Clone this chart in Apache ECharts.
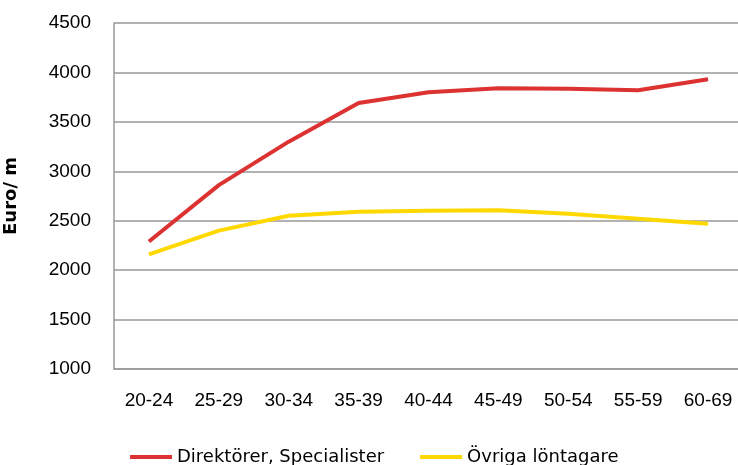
<!DOCTYPE html>
<html>
<head>
<meta charset="utf-8">
<script src="https://cdn.jsdelivr.net/npm/echarts@6/dist/echarts.min.js"></script>
<style>
  html, body { margin: 0; padding: 0; background: #fff; }
  #chart { width: 738px; height: 465px; }
</style>
</head>
<body>
<div id="chart"></div>
<script>
var ageGroups = ["20-24", "25-29", "30-34", "35-39", "40-44", "45-49", "50-54", "55-59", "60-69"];
var direktorer = [2290, 2860, 3300, 3690, 3800, 3840, 3835, 3820, 3930];
var ovriga = [2160, 2400, 2550, 2590, 2600, 2605, 2570, 2520, 2470];
var seriesNames = ["Direktörer, Specialister", "Övriga löntagare"];

var chart = echarts.init(document.getElementById("chart"));
var option = {
  animation: false,
  backgroundColor: "#fff",
  grid: { left: 114, top: 23, bottom: 96, width: 629, outerBoundsMode: "none", containLabel: false },
  legend: {
    data: seriesNames,
    left: 125,
    top: 443,
    icon: "rect",
    itemWidth: 42,
    itemHeight: 4,
    itemGap: 36,
    textStyle: { fontFamily: "DejaVu Sans", fontSize: 18, color: "#000" }
  },
  xAxis: {
    type: "category",
    data: ageGroups,
    boundaryGap: true,
    axisLine: { lineStyle: { color: "#999", width: 1.5 } },
    axisTick: { show: false },
    axisLabel: { margin: 22, fontFamily: "Liberation Sans", fontSize: 19, color: "#000" }
  },
  yAxis: {
    type: "value",
    min: 1000,
    max: 4500,
    interval: 500,
    name: "Euro/ m",
    nameLocation: "middle",
    nameGap: 94,
    nameTextStyle: { fontFamily: "DejaVu Sans", fontWeight: "bold", fontSize: 18, color: "#000" },
    axisLine: { show: true, lineStyle: { color: "#999", width: 1.5 } },
    axisTick: { show: false },
    axisLabel: {
      margin: 23,
      fontFamily: "Liberation Sans",
      fontSize: 19,
      color: "#000",
      formatter: function (v) { return String(v); }
    },
    splitLine: { lineStyle: { color: "#999", width: 1.5 } }
  },
  series: [
    {
      name: seriesNames[0],
      type: "line",
      data: direktorer,
      symbol: "none",
      color: "#dc3232",
      lineStyle: { width: 4, color: "#dc3232" }
    },
    {
      name: seriesNames[1],
      type: "line",
      data: ovriga,
      symbol: "none",
      color: "#ffd800",
      lineStyle: { width: 4, color: "#ffd800" }
    }
  ]
};
chart.setOption(option);
</script>
</body>
</html>
